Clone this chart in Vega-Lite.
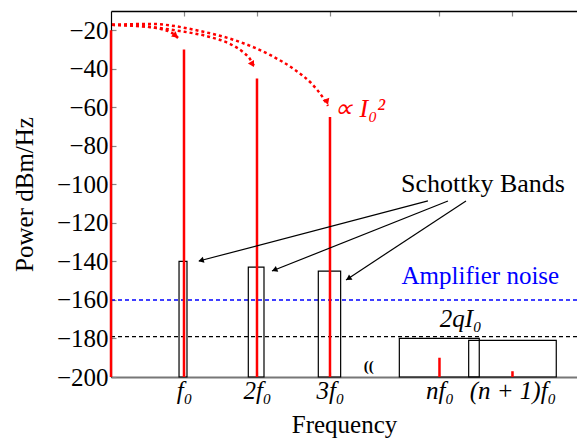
{
  "$schema": "https://vega.github.io/schema/vega-lite/v6.json",
  "width": 466,
  "height": 366,
  "autosize": {"type": "none"},
  "padding": {"left": 111, "top": 11, "right": 0, "bottom": 61},
  "background": "white",
  "config": {
    "view": {"stroke": null},
    "font": "Liberation Serif",
    "axis": {
      "labelFont": "Liberation Serif",
      "titleFont": "Liberation Serif",
      "labelFontSize": 25,
      "titleFontSize": 25,
      "titleFontWeight": "normal",
      "labelColor": "black",
      "titleColor": "black",
      "grid": false,
      "tickColor": "#888888",
      "tickSize": -5,
      "tickWidth": 1.2
    }
  },
  "resolve": {"axis": {"x": "independent", "y": "independent"}},
  "datasets": {
    "spikes": [
      {"freq": 0, "power": -20},
      {"freq": 1, "power": -30},
      {"freq": 2, "power": -45},
      {"freq": 3, "power": -65},
      {"freq": 4.5, "power": -190},
      {"freq": 5.5, "power": -197}
    ],
    "bands": [
      {"lo": 0.932, "hi": 1.041, "power": -140},
      {"lo": 1.881, "hi": 2.096, "power": -143},
      {"lo": 2.84, "hi": 3.146, "power": -145},
      {"lo": 3.95, "hi": 5.045, "power": -180},
      {"lo": 4.9, "hi": 6.1, "power": -181}
    ],
    "arcs": [
      {"arc": "f0", "i": 0, "freq": 0.014, "power": -17.2},
      {"arc": "f0", "i": 1, "freq": 0.397, "power": -17.8},
      {"arc": "f0", "i": 2, "freq": 0.671, "power": -19.3},
      {"arc": "f0", "i": 3, "freq": 0.836, "power": -21.4},
      {"arc": "f0", "i": 4, "freq": 0.918, "power": -24.0},
      {"arc": "2f0", "i": 0, "freq": 0.014, "power": -17.2},
      {"arc": "2f0", "i": 1, "freq": 0.534, "power": -18.3},
      {"arc": "2f0", "i": 2, "freq": 0.945, "power": -20.4},
      {"arc": "2f0", "i": 3, "freq": 1.356, "power": -23.5},
      {"arc": "2f0", "i": 4, "freq": 1.63, "power": -27.1},
      {"arc": "2f0", "i": 5, "freq": 1.808, "power": -31.3},
      {"arc": "2f0", "i": 6, "freq": 1.904, "power": -34.9},
      {"arc": "2f0", "i": 7, "freq": 1.959, "power": -38.5},
      {"arc": "3f0", "i": 0, "freq": 0.014, "power": -17.2},
      {"arc": "3f0", "i": 1, "freq": 0.534, "power": -16.7},
      {"arc": "3f0", "i": 2, "freq": 1.219, "power": -20.4},
      {"arc": "3f0", "i": 3, "freq": 1.767, "power": -26.1},
      {"arc": "3f0", "i": 4, "freq": 2.178, "power": -32.8},
      {"arc": "3f0", "i": 5, "freq": 2.521, "power": -40.6},
      {"arc": "3f0", "i": 6, "freq": 2.753, "power": -47.9},
      {"arc": "3f0", "i": 7, "freq": 2.89, "power": -54.2},
      {"arc": "3f0", "i": 8, "freq": 2.973, "power": -59.3}
    ],
    "pointers": [
      {"from_freq": 4.342, "from_power": -108.6, "to_freq": 1.205, "to_power": -139.8},
      {"from_freq": 4.616, "from_power": -108.6, "to_freq": 2.205, "to_power": -145.0},
      {"from_freq": 4.863, "from_power": -108.6, "to_freq": 3.22, "to_power": -149.6}
    ],
    "heads": [
      {"name": "band1", "freq": 1.233, "power": -139.5},
      {"name": "band2", "freq": 2.24, "power": -144.4},
      {"name": "band3", "freq": 3.253, "power": -148.9},
      {"name": "arc1", "freq": 0.886, "power": -22.9},
      {"name": "arc2", "freq": 1.938, "power": -37.7},
      {"name": "arc3", "freq": 2.959, "power": -57.2}
    ],
    "notes": [
      {"name": "i0", "freq": 3.055, "power": -65, "text": "∝ I₀²"},
      {"name": "schottky", "freq": 5.096, "power": -103.9, "text": "Schottky Bands"},
      {"name": "amp", "freq": 5.06, "power": -151.7, "text": "Amplifier noise"},
      {"name": "shot", "freq": 4.79, "power": -174.2, "text": "2qI₀"},
      {"name": "break", "freq": 3.53, "power": -198.5, "text": "(("}
    ]
  },
  "layer": [
    {
      "data": {"values": [{"level": -160}]},
      "mark": {"type": "rule", "color": "#0000ff", "strokeWidth": 1.5, "strokeDash": [4, 3]},
      "encoding": {
        "y": {"field": "level", "type": "quantitative", "axis": null}
      }
    },
    {
      "data": {"values": [{"level": -179}]},
      "mark": {"type": "rule", "color": "black", "strokeWidth": 1.3, "strokeDash": [4, 3]},
      "encoding": {"y": {"field": "level", "type": "quantitative", "axis": null}}
    },
    {
      "data": {"name": "bands"},
      "mark": {"type": "rect", "fill": null, "stroke": "black", "strokeWidth": 1.2},
      "encoding": {
        "x": {
          "field": "lo", "type": "quantitative",
          "scale": {"domain": [0, 6.384], "nice": false, "zero": false},
          "axis": {
            "orient": "bottom",
            "values": [1, 2, 3, 4.5, 5.5],
            "labelExpr": "datum.value == 1 ? 'f₀' : datum.value == 2 ? '2f₀' : datum.value == 3 ? '3f₀' : datum.value == 4.5 ? 'nf₀' : '(n + 1)f₀'",
            "labelFontStyle": "italic",
            "title": "Frequency",
            "domainColor": "#777777",
            "domainWidth": 2,
            "labelPadding": 6,
            "titlePadding": 9
          }
        },
        "x2": {"field": "hi"},
        "y": {
          "field": "power", "type": "quantitative",
          "scale": {"domain": [-200, -10], "nice": false, "zero": false},
          "axis": {
            "values": [-200, -180, -160, -140, -120, -100, -80, -60, -40, -20],
            "title": "Power dBm/Hz",
            "domainColor": "black",
            "domainWidth": 1.2,
            "labelPadding": 8,
            "titlePadding": 19
          }
        },
        "y2": {"datum": -200}
      }
    },
    {
      "data": {"name": "spikes"},
      "mark": {"type": "rule", "color": "#ff0000", "strokeWidth": 2.5},
      "encoding": {
        "x": {
          "field": "freq", "type": "quantitative",
          "axis": {
            "orient": "top",
            "values": [1, 2, 3, 4.5, 5.5],
            "labels": false,
            "title": null,
            "domainColor": "black",
            "domainWidth": 1.5
          }
        },
        "y": {"field": "power", "type": "quantitative", "axis": null},
        "y2": {"datum": -200}
      }
    },
    {
      "data": {"name": "arcs"},
      "mark": {"type": "line", "color": "#ff0000", "strokeWidth": 2.5, "strokeDash": [3, 3], "interpolate": "monotone"},
      "encoding": {
        "x": {"field": "freq", "type": "quantitative", "axis": null},
        "y": {"field": "power", "type": "quantitative", "axis": null},
        "detail": {"field": "arc"},
        "order": {"field": "i"}
      }
    },
    {
      "data": {"name": "pointers"},
      "mark": {"type": "rule", "color": "black", "strokeWidth": 1.2},
      "encoding": {
        "x": {"field": "from_freq", "type": "quantitative", "axis": null},
        "y": {"field": "from_power", "type": "quantitative", "axis": null},
        "x2": {"field": "to_freq"},
        "y2": {"field": "to_power"}
      }
    },
    {
      "data": {"name": "heads"},
      "transform": [{"filter": "datum.name == 'band1'"}],
      "mark": {"type": "point", "shape": "triangle-right", "filled": true, "color": "black", "size": 40, "angle": 165, "opacity": 1},
      "encoding": {"x": {"field": "freq", "type": "quantitative", "axis": null}, "y": {"field": "power", "type": "quantitative", "axis": null}}
    },
    {
      "data": {"name": "heads"},
      "transform": [{"filter": "datum.name == 'band2'"}],
      "mark": {"type": "point", "shape": "triangle-right", "filled": true, "color": "black", "size": 40, "angle": 158, "opacity": 1},
      "encoding": {"x": {"field": "freq", "type": "quantitative", "axis": null}, "y": {"field": "power", "type": "quantitative", "axis": null}}
    },
    {
      "data": {"name": "heads"},
      "transform": [{"filter": "datum.name == 'band3'"}],
      "mark": {"type": "point", "shape": "triangle-right", "filled": true, "color": "black", "size": 40, "angle": 147, "opacity": 1},
      "encoding": {"x": {"field": "freq", "type": "quantitative", "axis": null}, "y": {"field": "power", "type": "quantitative", "axis": null}}
    },
    {
      "data": {"name": "heads"},
      "transform": [{"filter": "datum.name == 'arc1'"}],
      "mark": {"type": "point", "shape": "triangle-right", "filled": true, "color": "#ff0000", "size": 50, "angle": 40, "opacity": 1},
      "encoding": {"x": {"field": "freq", "type": "quantitative", "axis": null}, "y": {"field": "power", "type": "quantitative", "axis": null}}
    },
    {
      "data": {"name": "heads"},
      "transform": [{"filter": "datum.name == 'arc2'"}],
      "mark": {"type": "point", "shape": "triangle-right", "filled": true, "color": "#ff0000", "size": 50, "angle": 60, "opacity": 1},
      "encoding": {"x": {"field": "freq", "type": "quantitative", "axis": null}, "y": {"field": "power", "type": "quantitative", "axis": null}}
    },
    {
      "data": {"name": "heads"},
      "transform": [{"filter": "datum.name == 'arc3'"}],
      "mark": {"type": "point", "shape": "triangle-right", "filled": true, "color": "#ff0000", "size": 50, "angle": 70, "opacity": 1},
      "encoding": {"x": {"field": "freq", "type": "quantitative", "axis": null}, "y": {"field": "power", "type": "quantitative", "axis": null}}
    },
    {
      "data": {"name": "notes"},
      "transform": [{"filter": "datum.name == 'i0'"}],
      "mark": {"type": "text", "align": "left", "baseline": "alphabetic", "fontSize": 26, "fontStyle": "italic", "color": "#ff0000"},
      "encoding": {"x": {"field": "freq", "type": "quantitative", "axis": null}, "y": {"field": "power", "type": "quantitative", "axis": null}, "text": {"field": "text"}}
    },
    {
      "data": {"name": "notes"},
      "transform": [{"filter": "datum.name == 'schottky'"}],
      "mark": {"type": "text", "align": "center", "baseline": "alphabetic", "fontSize": 26, "color": "black"},
      "encoding": {"x": {"field": "freq", "type": "quantitative", "axis": null}, "y": {"field": "power", "type": "quantitative", "axis": null}, "text": {"field": "text"}}
    },
    {
      "data": {"name": "notes"},
      "transform": [{"filter": "datum.name == 'shot'"}],
      "mark": {"type": "text", "align": "center", "baseline": "alphabetic", "fontSize": 25, "fontStyle": "italic", "color": "black"},
      "encoding": {"x": {"field": "freq", "type": "quantitative", "axis": null}, "y": {"field": "power", "type": "quantitative", "axis": null}, "text": {"field": "text"}}
    },
    {
      "data": {"name": "notes"},
      "transform": [{"filter": "datum.name == 'amp'"}],
      "mark": {"type": "text", "align": "center", "baseline": "alphabetic", "fontSize": 25, "color": "#0000ff"},
      "encoding": {"x": {"field": "freq", "type": "quantitative", "axis": null}, "y": {"field": "power", "type": "quantitative", "axis": null}, "text": {"field": "text"}}
    },
    {
      "data": {"name": "notes"},
      "transform": [{"filter": "datum.name == 'break'"}],
      "mark": {"type": "text", "align": "center", "baseline": "bottom", "fontSize": 15, "fontWeight": "bold", "color": "black"},
      "encoding": {"x": {"field": "freq", "type": "quantitative", "axis": null}, "y": {"field": "power", "type": "quantitative", "axis": null}, "text": {"field": "text"}}
    }
  ]
}
